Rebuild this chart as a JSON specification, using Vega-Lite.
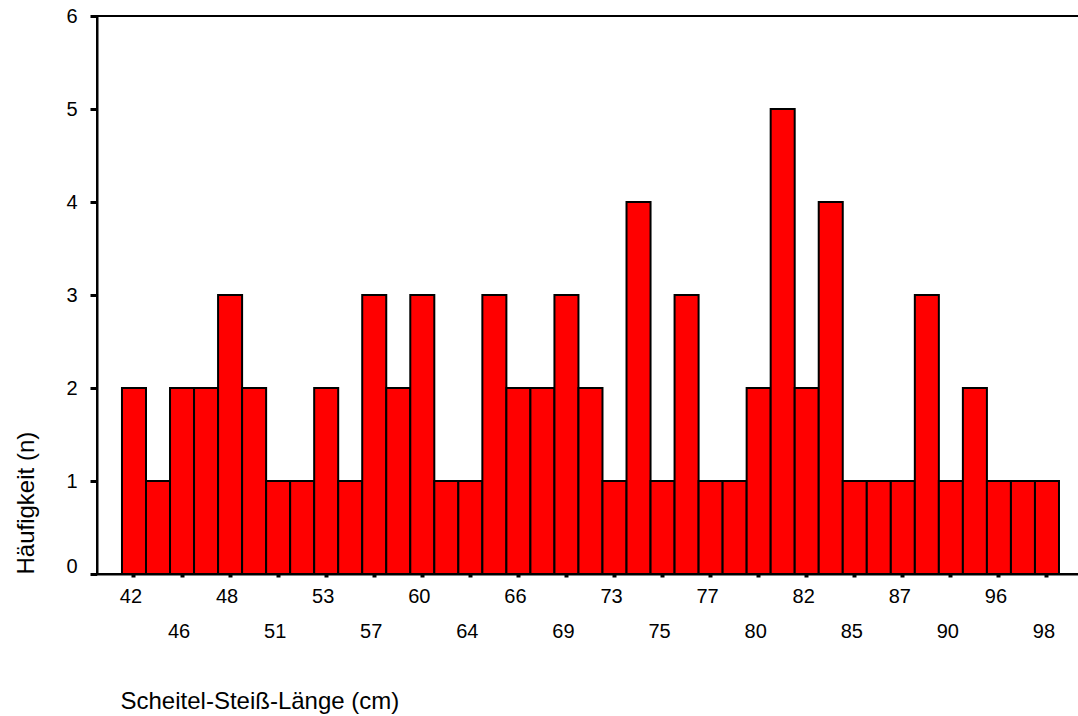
{
  "$schema": "https://vega.github.io/schema/vega-lite/v6.json",
  "width": 983,
  "height": 558,
  "autosize": "none",
  "padding": {"left": 97, "top": 16, "right": 0, "bottom": 142},
  "background": "white",
  "config": {
    "view": {"stroke": "black", "strokeWidth": 2},
    "font": "Liberation Sans"
  },
  "data": {
    "values": [
      {"kat": "42", "n": 2}, {"kat": "45", "n": 1}, {"kat": "46", "n": 2}, {"kat": "47", "n": 2},
      {"kat": "48", "n": 3}, {"kat": "50", "n": 2}, {"kat": "51", "n": 1}, {"kat": "52", "n": 1},
      {"kat": "53", "n": 2}, {"kat": "55", "n": 1}, {"kat": "57", "n": 3}, {"kat": "58", "n": 2},
      {"kat": "60", "n": 3}, {"kat": "62", "n": 1}, {"kat": "64", "n": 1}, {"kat": "65", "n": 3},
      {"kat": "66", "n": 2}, {"kat": "68", "n": 2}, {"kat": "69", "n": 3}, {"kat": "71", "n": 2},
      {"kat": "73", "n": 1}, {"kat": "74", "n": 4}, {"kat": "75", "n": 1}, {"kat": "76", "n": 3},
      {"kat": "77", "n": 1}, {"kat": "78", "n": 1}, {"kat": "80", "n": 2}, {"kat": "81", "n": 5},
      {"kat": "82", "n": 2}, {"kat": "83", "n": 4}, {"kat": "85", "n": 1}, {"kat": "86", "n": 1},
      {"kat": "87", "n": 1}, {"kat": "88", "n": 3}, {"kat": "90", "n": 1}, {"kat": "92", "n": 2},
      {"kat": "96", "n": 1}, {"kat": "97", "n": 1}, {"kat": "98", "n": 1}
    ]
  },
  "mark": {"type": "bar", "color": "#ff0000", "stroke": "black", "strokeWidth": 2},
  "encoding": {
    "x": {
      "field": "kat",
      "type": "ordinal",
      "sort": null,
      "scale": {"paddingInner": 0, "paddingOuter": 0.957, "align": 0.543},
      "axis": {
        "title": "Scheitel-Steiß-Länge (cm)",
        "titleFont": "Liberation Sans",
        "titleFontSize": 24,
        "titleFontWeight": "normal",
        "titleColor": "black",
        "titleAnchor": "start",
        "titleAlign": "left",
        "titleBaseline": "alphabetic",
        "titleX": 23,
        "titleY": 134,
        "values": ["42","46","48","51","53","57","60","64","66","69","73","75","77","80","82","85","87","90","96","98"],
        "labelAngle": 0,
        "labelFont": "Liberation Sans",
        "labelFontSize": 20,
        "labelColor": "black",
        "labelOverlap": false,
        "labelBaseline": "middle",
        "labelOffset": -3,
        "labelPadding": {
          "condition": {"test": "indexof(['46','51','57','64','69','75','80','85','90','98'], datum.value) >= 0", "value": 54},
          "value": 19
        },
        "domainColor": "black",
        "domainWidth": 2,
        "tickColor": "black",
        "tickSize": 3,
        "tickWidth": 4
      }
    },
    "y": {
      "field": "n",
      "type": "quantitative",
      "scale": {"domain": [0, 6], "nice": false},
      "axis": {
        "title": "Häufigkeit (n)",
        "titleFont": "Liberation Sans",
        "titleFontSize": 24,
        "titleFontWeight": "normal",
        "titleColor": "black",
        "titleAngle": -90,
        "titleAlign": "left",
        "titleBaseline": "alphabetic",
        "titleX": -64,
        "titleY": 558,
        "values": [0, 1, 2, 3, 4, 5, 6],
        "grid": false,
        "labelFont": "Liberation Sans",
        "labelFontSize": 20,
        "labelColor": "black",
        "labelPadding": 13,
        "labelOffset": {"condition": {"test": "datum.value === 0", "value": -8}, "value": 0},
        "domainColor": "black",
        "domainWidth": 2,
        "tickColor": "black",
        "tickSize": 7,
        "tickWidth": 3
      }
    }
  }
}
